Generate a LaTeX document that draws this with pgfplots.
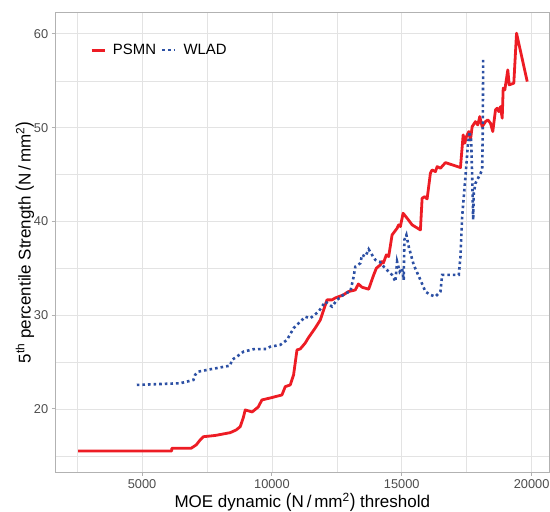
\documentclass[border=0pt]{standalone}
\usepackage{fontspec}
\setmainfont{Liberation Sans}
\usepackage{pgfplots}
\pgfplotsset{compat=1.18}
\definecolor{psmn}{RGB}{237,28,36}
\definecolor{wlad}{RGB}{44,80,164}
\definecolor{framec}{gray}{0.70}
\definecolor{gridc}{gray}{0.89}
\definecolor{ticklab}{gray}{0.30}
\newcommand{\bigparen}[1]{\raisebox{0.6bp}{\scalebox{1}[1.15]{#1}}}

\begin{document}
\begin{tikzpicture}
\path[use as bounding box] (0,0) rectangle (550bp,512bp);
\begin{axis}[
  at={(55.4bp,40bp)}, anchor=south west,
  scale only axis, width=493.8bp, height=459bp,
  xmin=1662, xmax=20676, ymin=13.275, ymax=62.225,
  xtick={5000,10000,15000,20000}, ytick={20,30,40,50,60},
  minor xtick={2500,7500,12500,17500}, minor ytick={15,25,35,45,55},
  scaled x ticks=false, scaled y ticks=false,
  grid=both,
  major grid style={draw=gridc, line width=0.8bp},
  minor grid style={draw=gridc, line width=0.45bp},
  axis line style={draw=framec, line width=1bp},
  tick align=outside, major tick length=3.7bp, minor tick length=0pt,
  tick style={draw=framec, line width=0.9bp},
  xtick pos=left, ytick pos=left,
  ticklabel style={font=\fontsize{12.8bp}{14bp}\selectfont, text=ticklab},
  /pgf/number format/assume math mode=true,
  /pgf/number format/1000 sep={},
  xlabel={MOE dynamic \bigparen{(}N\,/\,mm\textsuperscript{2}\bigparen{)} threshold},
  ylabel={5\textsuperscript{th} percentile Strength \bigparen{(}N\,/\,mm\textsuperscript{2}\bigparen{)}},
  label style={font=\fontsize{17bp}{19bp}\selectfont, text=black},
  xlabel shift=-2bp,
  ylabel shift=-7bp,
  legend columns=2,
  legend style={at={(0.064,0.919)}, anchor=west, draw=none, fill=none,
    font=\fontsize{14.9bp}{16bp}\selectfont,
    /tikz/every odd column/.append style={column sep=5bp},
    /tikz/every even column/.append style={column sep=3bp}},
  legend image code/.code={\draw[#1] (0bp,0bp) -- (13bp,0bp);},
]
\addplot[psmn, line width=2.8bp, line join=round] coordinates {
(2533,15.52) (6145,15.52) (6145,15.81) (6889,15.81) (7082,16.16) (7236,16.69)
(7363,17.04) (7814,17.17) (8392,17.47) (8624,17.76) (8778,18.11) (8894,19.04)
(8971,19.89) (9240,19.68) (9472,20.21) (9614,20.96) (9934,21.17) (10385,21.49)
(10513,22.38) (10705,22.56) (10833,23.63) (10964,26.29) (11091,26.40) (11284,27.04)
(11399,27.57) (11669,28.64) (11862,29.49) (12120,31.63) (12313,31.63) (12440,31.84)
(12749,32.16) (12941,32.51) (13211,32.69) (13327,33.33) (13469,32.98) (13724,32.77)
(13917,34.29) (14021,35.01) (14175,35.36) (14240,35.71) (14291,35.57) (14406,36.43)
(14495,36.25) (14626,38.56) (14819,39.27) (14880,39.63) (14946,39.45) (15050,40.87)
(15204,40.34) (15397,39.63) (15717,39.09) (15783,42.47) (15883,42.64) (15975,42.40)
(16102,45.14) (16168,45.49) (16295,45.31) (16361,45.84) (16488,45.67) (16681,46.27)
(17259,45.74) (17363,49.23) (17425,48.34) (17490,49.04) (17579,49.58) (17644,48.69)
(17710,50.11) (17837,50.64) (17926,50.29) (18003,51.18) (18095,50.11) (18223,50.64)
(18311,50.83) (18415,50.47) (18504,49.58) (18608,51.89) (18674,52.07) (18735,51.71)
(18801,52.24) (18866,51.01) (18905,54.21) (18967,54.03) (19082,56.16) (19136,54.56)
(19313,54.74) (19418,60.07) (19830,54.91)
};
\addlegendentry{PSMN}
\addplot[wlad, line width=2.6bp, dash pattern=on 2.6bp off 3bp] coordinates {
(4796,22.56) (6465,22.74) (6978,23.09) (7043,23.63) (7170,23.98) (7494,24.16)
(8392,24.62) (8458,25.23) (8651,25.58) (8905,26.11) (9291,26.37) (9807,26.40)
(9934,26.64) (10320,26.83) (10578,27.36) (10833,28.61) (11091,29.31) (11284,29.84)
(11476,29.67) (11796,30.38) (12055,31.44) (12313,30.91) (12506,31.63) (12826,32.34)
(13018,32.51) (13146,34.11) (13211,35.18) (13404,35.54) (13469,36.43) (13597,36.25)
(13724,37.03) (13855,36.43) (13982,35.89) (14148,35.71) (14302,35.18) (14495,34.64)
(14626,34.29) (14753,33.58) (14819,35.71) (14919,34.64) (15011,35.01) (15073,33.76)
(15100,38.03) (15177,38.56) (15266,37.31) (15459,35.36) (15717,33.76) (15910,32.51)
(16102,32.16) (16295,31.98) (16488,32.51) (16553,34.29) (17194,34.29) (17259,36.25)
(17324,40.51) (17452,44.78) (17540,47.98) (17606,49.58) (17671,48.69) (17710,44.78)
(17748,40.16) (17772,43.01) (17837,44.07) (18003,44.96) (18095,45.49) (18118,49.76)
(18134,57.23)
};
\addlegendentry{WLAD}
\end{axis}
\end{tikzpicture}
\end{document}
